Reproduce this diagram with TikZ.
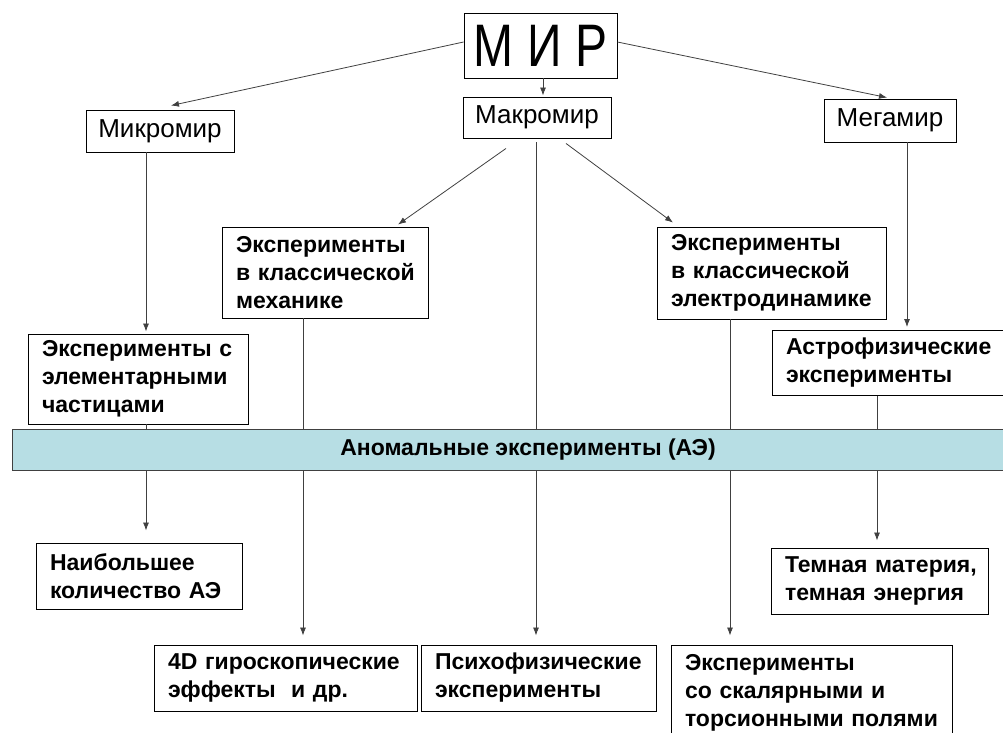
\documentclass[tikz,border=0pt]{standalone}
\usepackage{fontspec}
\setmainfont{Liberation Sans}
\usetikzlibrary{arrows.meta}
\definecolor{bandfill}{RGB}{183,222,228}
\definecolor{linegray}{RGB}{64,64,64}
\tikzset{
  world/.style={draw, rectangle, line width=0.9pt, inner sep=0pt, font=\fontsize{26}{28}\selectfont},
  exper/.style={draw, rectangle, line width=0.9pt, align=left, inner xsep=14pt, inner ysep=0pt, font=\bfseries\fontsize{23}{28}\selectfont},
  conn/.style={-{Latex[length=8pt,width=6pt]}, draw=linegray, line width=0.8pt}
}

\begin{document}
\begin{tikzpicture}[x=1pt, y=-1pt]
  \useasboundingbox (0,0) rectangle (1003,732);
  \clip (0,0) rectangle (1003,732);

  \node[world, minimum width=153pt, minimum height=65pt, font=\fontsize{48}{48}\selectfont] (mir) at (540.5,45.5) {\scalebox{1}[1.25]{М И Р}};
  \node[world, minimum width=148pt, minimum height=42pt] (micro) at (160,131) {Микромир};
  \node[world, minimum width=148pt, minimum height=41pt] (macro) at (537,117.5) {Макромир};
  \node[world, minimum width=132pt, minimum height=43pt] (mega) at (890,120.5) {Мегамир};

  \node[exper, text width=178pt, minimum height=91pt] (mech) at (325,272.5) {Эксперименты\\в~классической\\механике};
  \node[exper, text width=201pt, minimum height=92pt] (electro) at (771.5,273) {Эксперименты\\в~классической\\электродинамике};
  \node[exper, text width=192pt, minimum height=90pt] (elem) at (138,379) {Эксперименты~с\\элементарными\\частицами};
  \node[exper, text width=222pt, minimum height=65pt] (astro) at (897,363) {Астрофизические\\эксперименты};

  \node[exper, text width=178pt, minimum height=66pt] (naib) at (139,576) {Наибольшее\\количество~АЭ};
  \node[exper, text width=189pt, minimum height=66pt] (dark) at (879.5,581) {Темная~материя,\\темная~энергия};
  \node[exper, text width=235pt, minimum height=66pt] (gyro) at (285.5,678) {4D~гироскопические\\эффекты\ \ и~др.};
  \node[exper, text width=207pt, minimum height=66pt] (psy) at (538.5,678) {Психофизические\\эксперименты};
  \node[exper, text width=253pt, minimum height=96pt] (scalar) at (811.5,693) {Эксперименты\\со~скалярными~и\\торсионными~полями};

  \draw[conn] ([yshift=3.5pt]mir.west) -- ([xshift=11pt,yshift=4pt]micro.north);
  \draw[conn] ([xshift=2.5pt]mir.south) -- ([xshift=6pt,yshift=1pt]macro.north);
  \draw[conn] ([yshift=3.5pt]mir.east) -- ([xshift=-3pt,yshift=1pt]mega.north);
  \draw[conn] ([xshift=-31pt,yshift=-10pt]macro.south) -- ([xshift=73pt,yshift=2pt]mech.north);
  \draw[conn] ([xshift=29pt,yshift=-5pt]macro.south) -- ([xshift=-98.5pt,yshift=4pt]electro.north);

  \foreach \from/\fx/\fy/\to/\tx/\ty in {micro/-14/0/elem/8/2, elem/8/0/naib/7/12, mech/-22/0/gyro/17.5/9, macro/-1/-4/psy/-2.5/9, electro/-41.5/0/scalar/-81.5/9, mega/17/0/astro/10/3, astro/-20/0/dark/-2.5/7}
    \draw[conn] ([xshift=\fx pt, yshift=\fy pt]\from.south) -- ([xshift=\tx pt, yshift=\ty pt]\to.north);

  % band over the lines
  \node[draw=linegray, fill=bandfill, line width=0.9pt, minimum width=1032pt, minimum height=41pt, inner sep=0pt, font=\bfseries\fontsize{23}{24}\selectfont] (band) at (528,450) {Аномальные эксперименты (АЭ)};
\end{tikzpicture}
\end{document}
